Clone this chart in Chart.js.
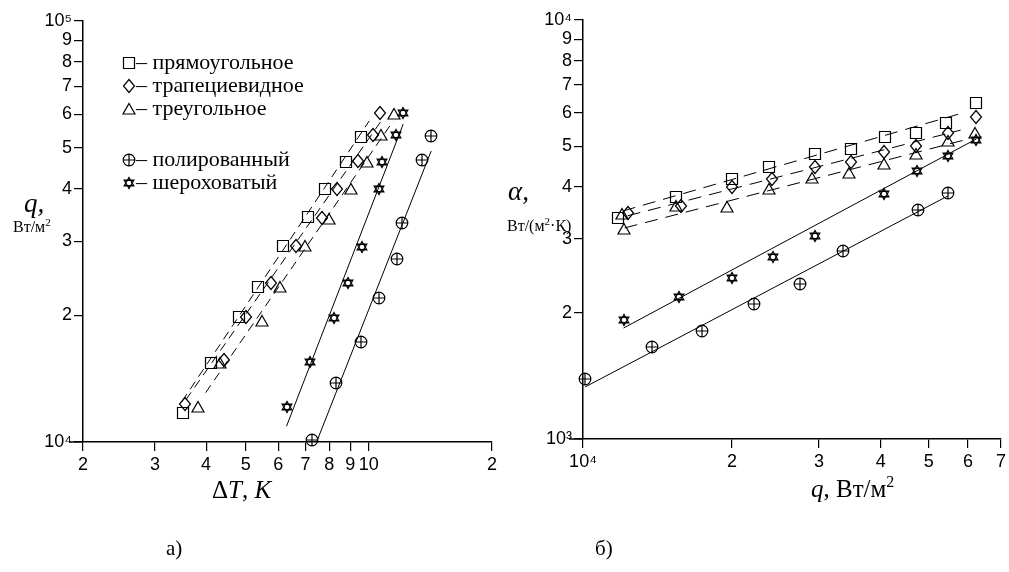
<!DOCTYPE html>
<html>
<head>
<meta charset="utf-8">
<script src="https://cdn.jsdelivr.net/npm/chart.js@4.4.0/dist/chart.umd.min.js"></script>
<style>
  html, body { margin: 0; padding: 0; background: #fff; }
  #wrap { position: relative; width: 1009px; height: 572px; }
  canvas { position: absolute; top: 0; }
  #chartA { left: 0; }
  #chartB { left: 500px; }
</style>
</head>
<body>
<div id="wrap">
  <canvas id="chartA" width="500" height="572"></canvas>
  <canvas id="chartB" width="509" height="572"></canvas>
</div>
<script>
// ---------- panel a) : q, W/m2  vs  dT, K ----------
const dtRect  = [3.51, 4.10, 4.80, 5.37, 6.15, 7.11, 7.83, 8.80, 9.59];
const qRect   = [11700, 15400, 19800, 23400, 29200, 34300, 40000, 46200, 53000];
const dtTrap  = [3.55, 4.42, 5.00, 5.75, 6.65, 7.66, 8.38, 9.42, 10.25, 10.67];
const qTrap   = [12300, 15700, 19800, 23800, 29200, 34100, 39800, 46400, 53600, 60500];
const dtTri   = [3.82, 4.32, 5.49, 6.05, 6.96, 8.01, 9.06, 9.91, 10.72, 11.53];
const qTri    = [12100, 15400, 19400, 23400, 29200, 33900, 39800, 46200, 53600, 60200];
const dtRough = [6.29, 7.16, 8.24, 8.91, 9.64, 10.6, 10.78, 11.66, 12.13];
const qRough  = [12100, 15500, 19700, 23900, 29000, 39800, 46200, 53600, 60500];
const dtPol   = [7.28, 8.33, 9.57, 10.6, 11.73, 12.06, 13.5, 14.2];
const qPol    = [10100, 13800, 17300, 22000, 27200, 33200, 46700, 53300];

// fitted lines (end points)
const dtRectFit  = [3.49, 10.02];  const qRectFit  = [12470, 57900];
const dtTrapFit  = [3.57, 10.72];  const qTrapFit  = [12600, 57900];
const dtTriFit   = [3.99, 11.47];  const qTriFit   = [13100, 57900];
const dtRoughFit = [6.29, 12.13];  const qRoughFit = [10900, 56900];
const dtPolFit   = [7.45, 14.2];   const qPolFit   = [10000, 49100];

const xTicksA  = [2, 3, 4, 5, 6, 7, 8, 9, 10, 20];
const xLabelsA = ['2', '3', '4', '5', '6', '7', '8', '9', '10', '2'];
const yTicksA  = [1e4, 2e4, 3e4, 4e4, 5e4, 6e4, 7e4, 8e4, 9e4, 1e5];
const yLabelsA = ['10\u2074', '2', '3', '4', '5', '6', '7', '8', '9', '10\u2075'];

// ---------- panel б) : alpha vs q ----------
const qRectB   = [11760, 15450, 20000, 23750, 29400, 34900, 40800, 47100, 54300, 62400];
const aRectB   = [3370, 3780, 4170, 4460, 4790, 4920, 5260, 5370, 5680, 6340];
const qTrapB   = [12310, 15800, 20000, 24100, 29400, 34900, 40600, 47100, 54800, 62400];
const aTrapB   = [3460, 3600, 3990, 4170, 4460, 4580, 4840, 5000, 5370, 5870];
const qTriB    = [12080, 12000, 15450, 19550, 23750, 29100, 34500, 40600, 47100, 54800, 62100];
const aTriB    = [3170, 3440, 3600, 3580, 3950, 4200, 4310, 4530, 4790, 5140, 5370];
const qRoughB  = [12080, 15600, 20000, 24200, 29400, 40600, 47300, 54800, 62400];
const aRoughB  = [1923, 2180, 2420, 2720, 3050, 3840, 4360, 4740, 5170];
const qPolB    = [10100, 13760, 17420, 22150, 27500, 33600, 47500, 54600];
const aPolB    = [1390, 1658, 1810, 2100, 2340, 2810, 3520, 3870];

const qRectFitB  = [12030, 57700];  const aRectFitB  = [3500, 5970];
const qTrapFitB  = [12310, 58000];  const aTrapFitB  = [3410, 5460];
const qTriFitB   = [12140, 59000];  const aTriFitB   = [3190, 5170];
const qRoughFitB = [12080, 62400];  const aRoughFitB = [1840, 5200];
const qPolFitB   = [10100, 54600];  const aPolFitB   = [1331, 3800];

const xTicksB  = [1e4, 2e4, 3e4, 4e4, 5e4, 6e4, 7e4];
const xLabelsB = ['10\u2074', '2', '3', '4', '5', '6', '7'];
const yTicksB  = [1e3, 2e3, 3e3, 4e3, 5e3, 6e3, 7e3, 8e3, 9e3, 1e4];
const yLabelsB = ['10\u00b3', '2', '3', '4', '5', '6', '7', '8', '9', '10\u2074'];

const legendNames = ['прямоугольное', 'трапециевидное', 'треугольное', 'полированный', 'шероховатый'];

// ---------- markers ----------
function makeMarker(kind) {
  const c = document.createElement('canvas');
  c.width = 18; c.height = 18;
  const g = c.getContext('2d');
  g.strokeStyle = '#000';
  g.lineWidth = 1.2;
  g.beginPath();
  if (kind === 'square') {
    g.rect(3.5, 3.5, 11, 11);
  } else if (kind === 'diamond') {
    g.moveTo(9, 2.5); g.lineTo(14.5, 9); g.lineTo(9, 15.5); g.lineTo(3.5, 9); g.closePath();
  } else if (kind === 'triangle') {
    g.moveTo(9, 3.5); g.lineTo(15, 14); g.lineTo(3, 14); g.closePath();
  } else if (kind === 'polished') {
    g.arc(9, 9, 5.8, 0, Math.PI * 2);
    g.moveTo(3, 9); g.lineTo(15, 9);
    g.moveTo(9, 3); g.lineTo(9, 15);
  } else if (kind === 'rough') {
    g.lineWidth = 1.3;
    const r = 5.5;
    for (let k = 0; k < 2; k++) {
      for (let i = 0; i < 3; i++) {
        const ang = -Math.PI / 2 + k * Math.PI + i * 2 * Math.PI / 3;
        const px = 9 + r * Math.cos(ang), py = 9 + r * Math.sin(ang);
        if (i === 0) g.moveTo(px, py); else g.lineTo(px, py);
      }
      g.closePath();
    }
  }
  g.stroke();
  return c;
}
const mk = {
  square: makeMarker('square'),
  diamond: makeMarker('diamond'),
  triangle: makeMarker('triangle'),
  polished: makeMarker('polished'),
  rough: makeMarker('rough')
};

function zip(xs, ys) { return xs.map((x, i) => ({ x: x, y: ys[i] })); }

function pts(xs, ys, marker) {
  return { data: zip(xs, ys), pointStyle: marker, pointRadius: 6, showLine: false, clip: false };
}
function fit(xs, ys, dash) {
  return { data: zip(xs, ys), showLine: true, pointRadius: 0, borderColor: '#000',
           borderWidth: 1, borderDash: dash, clip: false };
}

// keep the marker images sharp when they land on fractional pixels
const crisp = {
  id: 'crisp',
  beforeDatasetsDraw(chart) { chart.ctx.imageSmoothingEnabled = false; },
  afterDatasetsDraw(chart) { chart.ctx.imageSmoothingEnabled = true; }
};

// ---------- text helpers ----------
function drawParts(ctx, parts, x, y) {
  ctx.save();
  ctx.fillStyle = '#000';
  ctx.textBaseline = 'alphabetic';
  parts.forEach(p => {
    ctx.font = p.f;
    ctx.fillText(p.t, x, y + (p.dy || 0));
    x += ctx.measureText(p.t).width;
  });
  ctx.restore();
}
const SERIF = '"Liberation Serif", "Times New Roman", serif';

function logAxis(min, max, tickVals, tickLabels, fixSize, isX) {
  return {
    type: 'logarithmic',
    min: min, max: max,
    afterBuildTicks: s => { s.ticks = tickVals.map(v => ({ value: v })); },
    afterFit: s => { if (isX) s.height = fixSize; else s.width = fixSize; },
    grid: { drawOnChartArea: false, drawTicks: true, tickLength: 9, color: '#000', lineWidth: 1.2 },
    border: { display: true, color: '#000', width: 1.5 },
    ticks: {
      color: '#000', autoSkip: false, maxRotation: 0, padding: isX ? 3 : 2,
      font: { family: '"Liberation Sans", Arial, sans-serif', size: 18 },
      callback: (v, i) => tickLabels[i]
    }
  };
}

// ---------- panel a ----------
const annotA = {
  id: 'annotA',
  afterDraw(chart) {
    const ctx = chart.ctx;
    // x axis stub left of the y axis
    ctx.save();
    ctx.strokeStyle = '#000'; ctx.lineWidth = 1.5;
    ctx.beginPath(); ctx.moveTo(70, chart.chartArea.bottom); ctx.lineTo(chart.chartArea.left, chart.chartArea.bottom); ctx.stroke();
    ctx.restore();
    drawParts(ctx, [{ t: 'q,', f: 'italic 27px ' + SERIF }], 24, 212);
    drawParts(ctx, [{ t: 'Вт/м', f: '16px ' + SERIF }, { t: '2', f: '11px ' + SERIF, dy: -6 }], 13, 232);
    drawParts(ctx, [{ t: '\u0394', f: '25px ' + SERIF }, { t: 'T', f: 'italic 25px ' + SERIF },
                    { t: ', ', f: '25px ' + SERIF }, { t: 'K', f: 'italic 25px ' + SERIF }], 212, 498);
    drawParts(ctx, [{ t: 'а)', f: '21px ' + SERIF }], 166, 555);
    // legend
    const rows = [
      [mk.square, 63], [mk.diamond, 86], [mk.triangle, 109], [mk.polished, 160], [mk.rough, 183]
    ];
    rows.forEach((r, i) => {
      ctx.drawImage(r[0], 120, r[1] - 9);
      drawParts(ctx, [{ t: '\u2013 ' + legendNames[i], f: '22px ' + SERIF }], 136, r[1] + 6);
    });
  }
};

new Chart(document.getElementById('chartA'), {
  type: 'scatter',
  data: {
    datasets: [
      fit(dtRectFit, qRectFit, [9, 6]),
      fit(dtTrapFit, qTrapFit, [9, 6]),
      fit(dtTriFit, qTriFit, [9, 6]),
      fit(dtRoughFit, qRoughFit, []),
      fit(dtPolFit, qPolFit, []),
      pts(dtRect, qRect, mk.square),
      pts(dtTrap, qTrap, mk.diamond),
      pts(dtTri, qTri, mk.triangle),
      pts(dtRough, qRough, mk.rough),
      pts(dtPol, qPol, mk.polished)
    ]
  },
  options: {
    responsive: false,
    animation: false,
    events: [],
    layout: { padding: { left: 0, right: 7, top: 21, bottom: 0 } },
    plugins: { legend: { display: false }, tooltip: { enabled: false } },
    scales: {
      x: logAxis(2, 20, xTicksA, xLabelsA, 130, true),
      y: logAxis(1e4, 1e5, yTicksA, yLabelsA, 83, false)
    }
  },
  plugins: [crisp, annotA]
});

// ---------- panel б ----------
const annotB = {
  id: 'annotB',
  afterDraw(chart) {
    const ctx = chart.ctx;
    ctx.save();
    ctx.strokeStyle = '#000'; ctx.lineWidth = 1.5;
    ctx.beginPath(); ctx.moveTo(69, chart.chartArea.bottom); ctx.lineTo(chart.chartArea.left, chart.chartArea.bottom); ctx.stroke();
    ctx.restore();
    drawParts(ctx, [{ t: '\u03b1,', f: 'italic 27px ' + SERIF }], 8, 200);
    drawParts(ctx, [{ t: 'Вт/(м', f: '16px ' + SERIF }, { t: '2', f: '11px ' + SERIF, dy: -6 },
                    { t: '\u00b7К)', f: '16px ' + SERIF }], 7, 231);
    drawParts(ctx, [{ t: 'q', f: 'italic 25px ' + SERIF }, { t: ', Вт/м', f: '25px ' + SERIF },
                    { t: '2', f: '16px ' + SERIF, dy: -10 }], 311, 497);
    drawParts(ctx, [{ t: 'б)', f: '21px ' + SERIF }], 95, 555);
  }
};

new Chart(document.getElementById('chartB'), {
  type: 'scatter',
  data: {
    datasets: [
      fit(qRectFitB, aRectFitB, [13, 8]),
      fit(qTrapFitB, aTrapFitB, [13, 8]),
      fit(qTriFitB, aTriFitB, [13, 8]),
      fit(qRoughFitB, aRoughFitB, []),
      fit(qPolFitB, aPolFitB, []),
      pts(qRectB, aRectB, mk.square),
      pts(qTrapB, aTrapB, mk.diamond),
      pts(qTriB, aTriB, mk.triangle),
      pts(qRoughB, aRoughB, mk.rough),
      pts(qPolB, aPolB, mk.polished)
    ]
  },
  options: {
    responsive: false,
    animation: false,
    events: [],
    layout: { padding: { left: 0, right: 5, top: 20, bottom: 0 } },
    plugins: { legend: { display: false }, tooltip: { enabled: false } },
    scales: {
      x: logAxis(1e4, 7e4, xTicksB, xLabelsB, 133, true),
      y: logAxis(1e3, 1e4, yTicksB, yLabelsB, 83, false)
    }
  },
  plugins: [crisp, annotB]
});
</script>
</body>
</html>
